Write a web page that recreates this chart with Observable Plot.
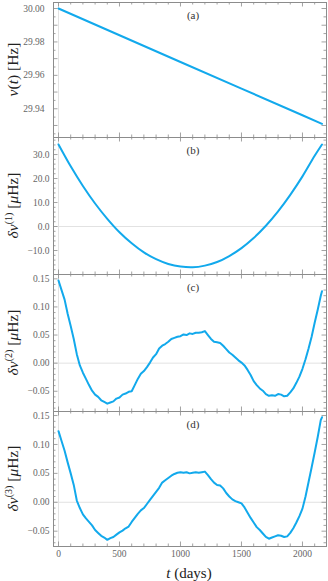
<!DOCTYPE html>
<html>
<head>
<meta charset="utf-8">
<script src="https://cdn.jsdelivr.net/npm/d3@7"></script>
<script src="https://cdn.jsdelivr.net/npm/@observablehq/plot@0.6"></script>
<style>
  html, body { margin: 0; padding: 0; background: white; }
  #chart { width: 328px; height: 581px; }
  #chart svg { display: block; }
</style>
</head>
<body>
<div id="chart"></div>
<script>
// ---- data ----
const tA = [0, 500, 1000, 1500, 2000, 2160];
const nuA = [30.0000, 29.9840, 29.9680, 29.9521, 29.9361, 29.9310];

const tB = [0, 100, 200, 300, 400, 500, 600, 700, 800, 900, 1000, 1100, 1200, 1300, 1400, 1500, 1600, 1700, 1800, 1900, 2000, 2100, 2160];
const dnu1 = [34.2, 25.1, 16.9, 9.6, 3.2, -2.4, -7.0, -10.8, -13.6, -15.6, -16.7, -17.0, -16.3, -14.8, -12.3, -9.0, -4.8, 0.3, 6.3, 13.2, 20.9, 29.5, 34.2];

const tC = [0,25,50,75,100,125,150,175,200,225,250,275,300,325,350,375,400,425,450,475,500,525,550,575,600,625,650,675,700,725,750,775,800,825,850,875,900,925,950,975,1000,1025,1050,1075,1100,1125,1150,1175,1200,1225,1250,1275,1300,1325,1350,1375,1400,1425,1450,1475,1500,1525,1550,1575,1600,1625,1650,1675,1700,1725,1750,1775,1800,1825,1850,1875,1900,1925,1950,1975,2000,2025,2050,2075,2100,2125,2150,2160];
const dnu2 = [0.147,0.130,0.113,0.088,0.066,0.043,0.016,-0.004,-0.017,-0.028,-0.039,-0.049,-0.056,-0.060,-0.066,-0.069,-0.072,-0.070,-0.068,-0.063,-0.061,-0.056,-0.054,-0.051,-0.050,-0.039,-0.028,-0.019,-0.014,-0.007,0.001,0.010,0.016,0.026,0.031,0.034,0.038,0.043,0.045,0.047,0.048,0.051,0.050,0.053,0.052,0.054,0.054,0.055,0.057,0.050,0.043,0.038,0.037,0.036,0.031,0.025,0.019,0.015,0.010,0.005,0.001,-0.004,-0.012,-0.021,-0.032,-0.039,-0.045,-0.049,-0.055,-0.058,-0.057,-0.058,-0.055,-0.056,-0.059,-0.058,-0.052,-0.045,-0.035,-0.024,-0.010,0.007,0.026,0.047,0.072,0.095,0.120,0.128];

const tD = tC;
const dnu3 = [0.123,0.106,0.089,0.069,0.050,0.030,0.003,-0.010,-0.021,-0.028,-0.034,-0.040,-0.048,-0.053,-0.058,-0.061,-0.065,-0.062,-0.060,-0.056,-0.052,-0.049,-0.045,-0.042,-0.034,-0.027,-0.020,-0.014,-0.010,-0.003,0.004,0.011,0.018,0.025,0.034,0.038,0.042,0.046,0.049,0.051,0.052,0.051,0.052,0.050,0.051,0.052,0.051,0.052,0.053,0.047,0.040,0.034,0.030,0.029,0.024,0.016,0.010,0.005,0.002,0.000,-0.002,-0.009,-0.018,-0.027,-0.035,-0.043,-0.048,-0.054,-0.060,-0.063,-0.061,-0.059,-0.057,-0.058,-0.060,-0.059,-0.053,-0.045,-0.035,-0.024,-0.011,0.010,0.035,0.060,0.086,0.113,0.142,0.147];

const xTickLabels = [0, 500, 1000, 1500, 2000];
const xMinorTicks = d3.range(0, 2200, 100);

const panelLabels = ["(a)", "(b)", "(c)", "(d)"];

// ---- styling ----
const W = 328;
const FONT = "'Liberation Serif', 'DejaVu Serif', serif";
const LINE = "#12a9ec";
const FRAME = "#8c8c8c";
const TICKTXT = "#666";
const GRID = "#e2e2e2";
const xDomain = [-41, 2197];
const mL = 53, mR = 2;

const minus = s => s.replace("-", "\u2212");

const panels = [
  {t: tA, v: nuA, domain: [29.9228, 30.0036], major: [29.94, 29.96, 29.98, 30.00], minorStep: 0.005, majorTickStep: 0.01,
   fmt: d => d.toFixed(2), pad: 9, mt: 2, mb: 0, h: 137, zero: false, curve: "linear",
   title: [["\u03bd", "i"], ["(", "n"], ["t", "i"], [") [Hz]", "n"]]},
  {t: tB, v: dnu1, domain: [-20, 37.1], major: [-10, 0, 10, 20, 30], minorStep: 2, majorTickStep: 10,
   fmt: d => minus(d.toFixed(1)), pad: 4, mt: 0, mb: 0, h: 137, zero: true, curve: "catmull-rom",
   title: [["\u03b4\u03bd", "i"], ["(1)", "s"], [" [", "n"], ["\u03bc", "i"], ["Hz]", "n"]]},
  {t: tC, v: dnu2, domain: [-0.086, 0.1577], major: [-0.05, 0, 0.05, 0.10, 0.15], minorStep: 0.01, majorTickStep: 0.05,
   fmt: d => minus(d.toFixed(2)), pad: 4, mt: 0, mb: 0, h: 137, zero: true, curve: "linear",
   title: [["\u03b4\u03bd", "i"], ["(2)", "s"], [" [", "n"], ["\u03bc", "i"], ["Hz]", "n"]]},
  {t: tD, v: dnu3, domain: [-0.0765, 0.157], major: [-0.05, 0, 0.05, 0.10, 0.15], minorStep: 0.01, majorTickStep: 0.05,
   fmt: d => minus(d.toFixed(2)), pad: 4, mt: 0, mb: 35, h: 170, zero: true, curve: "linear",
   title: [["\u03b4\u03bd", "i"], ["(3)", "s"], [" [", "n"], ["\u03bc", "i"], ["Hz]", "n"]]}
];

const chart = document.getElementById("chart");

panels.forEach((p, i) => {
  const data = p.t.map((t, k) => ({t, v: p.v[k]}));
  const fh = p.h - p.mt - p.mb;       // frame height
  const fw = W - mL - mR;             // frame width
  const lo = Math.ceil(p.domain[0] / p.minorStep - 1e-9), hi = Math.floor(p.domain[1] / p.minorStep + 1e-9);
  const yMinor = d3.range(lo, hi + 1).map(k => +(k * p.minorStep).toFixed(6));
  const isMajorY = y => Math.abs(y / p.majorTickStep - Math.round(y / p.majorTickStep)) < 1e-6;
  const yMin = yMinor.filter(y => !isMajorY(y));
  const yMaj = yMinor.filter(isMajorY);
  const xMin = xMinorTicks.filter(x => x % 500 !== 0);
  const xMaj = xMinorTicks.filter(x => x % 500 === 0);
  const tk = {stroke: FRAME, strokeWidth: 0.8};
  const isLast = i === panels.length - 1;

  const marks = [
    Plot.ruleX([0], {stroke: GRID, strokeWidth: 1}),
    p.zero ? Plot.ruleY([0], {stroke: GRID, strokeWidth: 1}) : null,
    // inward ticks on the frame
    Plot.tickX(xMin, {x: d => d, insetTop: fh - 2.5, ...tk}),
    Plot.tickX(xMin, {x: d => d, insetBottom: fh - 2.5, ...tk}),
    Plot.tickX(xMaj, {x: d => d, insetTop: fh - 4.5, ...tk}),
    Plot.tickX(xMaj, {x: d => d, insetBottom: fh - 4.5, ...tk}),
    Plot.tickY(yMin, {y: d => d, insetRight: fw - 2.5, ...tk}),
    Plot.tickY(yMin, {y: d => d, insetLeft: fw - 2.5, ...tk}),
    Plot.tickY(yMaj, {y: d => d, insetRight: fw - 4.5, ...tk}),
    Plot.tickY(yMaj, {y: d => d, insetLeft: fw - 4.5, ...tk}),
    Plot.frame({stroke: FRAME, strokeWidth: 1}),
    Plot.axisY({ticks: p.major, tickSize: 0, tickPadding: p.pad, tickFormat: p.fmt, fill: TICKTXT, fontSize: 9.5, fontFamily: FONT, label: null}),
    isLast ? Plot.axisX({ticks: xTickLabels, tickSize: 0, tickPadding: 4, tickFormat: d => String(d), fill: TICKTXT, fontSize: 9.5, fontFamily: FONT, label: null}) : null,
    Plot.line(data, {x: "t", y: "v", stroke: LINE, strokeWidth: 2, strokeLinejoin: "round", curve: p.curve}),
    Plot.text([panelLabels[i]], {frameAnchor: "top", dx: 3, dy: 13, lineAnchor: "middle", fontSize: 11, fontFamily: FONT, fill: "#333"})
  ].filter(Boolean);

  const svg = Plot.plot({
    width: W, height: p.h,
    marginLeft: mL, marginRight: mR, marginTop: p.mt, marginBottom: p.mb,
    style: {fontFamily: FONT, background: "white", overflow: "visible"},
    x: {domain: xDomain, axis: isLast ? undefined : null},
    y: {domain: p.domain},
    marks
  });

  // y-axis title with italic/superscript parts (real text)
  const s = d3.select(svg);
  const cy = p.mt + fh / 2;
  const txt = s.append("text")
    .attr("transform", `translate(18,${cy}) rotate(-90)`)
    .attr("text-anchor", "middle")
    .attr("font-family", FONT)
    .attr("font-size", 15.5)
    .attr("fill", "#222");
  let sup = false;
  p.title.forEach(([str, kind]) => {
    const ts = txt.append("tspan").text(str);
    if (kind === "i") ts.attr("font-style", "italic");
    if (kind === "s") { ts.attr("font-size", 10).attr("dy", -6); sup = true; }
    else if (sup) { ts.attr("dy", 6); sup = false; }
  });

  if (isLast) {
    const xt = s.append("text")
      .attr("x", 189).attr("y", 167)
      .attr("text-anchor", "middle")
      .attr("font-family", FONT)
      .attr("font-size", 15)
      .attr("fill", "#222");
    xt.append("tspan").attr("font-style", "italic").text("t");
    xt.append("tspan").text(" (days)");
  }

  chart.appendChild(svg);
});
</script>
</body>
</html>
